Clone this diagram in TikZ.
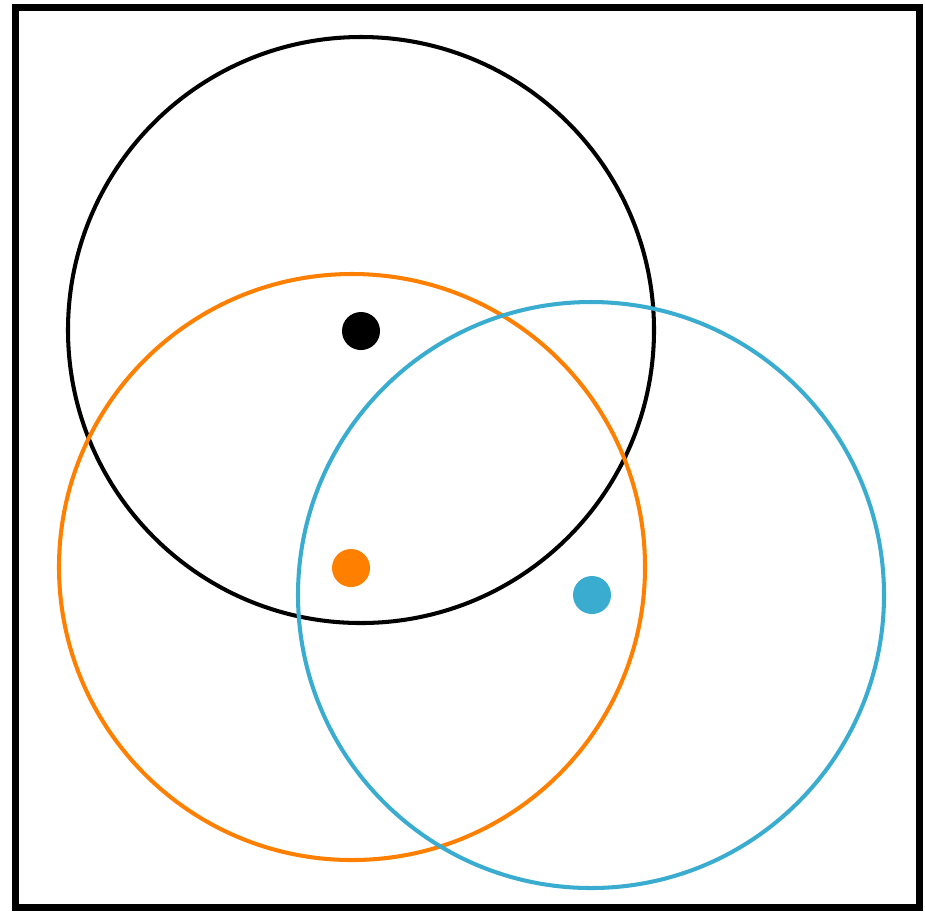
\documentclass[tikz,border=0pt]{standalone}
\usepackage{tikz}
\definecolor{ringorange}{RGB}{255,128,0}
\definecolor{ringblue}{RGB}{58,172,208}
\begin{document}
\begin{tikzpicture}[x=0.01cm, y=-0.01cm,
	ring/.style={draw, line width=1.15pt},
	dot/.style={circle, inner sep=0pt, minimum size=0.38cm}
]
	\useasboundingbox (0,0) rectangle (925,911);
	% Frame
	\draw[line width=2pt] (15.5,7.5) rectangle (919,907);

	% Circles
	\draw[ring, black] (361,330) circle (293);
	\draw[ring, ringorange] (352,567) circle (293);
	\draw[ring, ringblue] (591,595) circle (293);

	% Centres
	\node[dot, fill=black] (cblack) at (361,331) {};
	\node[dot, fill=ringorange] (corange) at (351,568) {};
	\node[dot, fill=ringblue] (cblue) at (592,595) {};
\end{tikzpicture}
\end{document}
